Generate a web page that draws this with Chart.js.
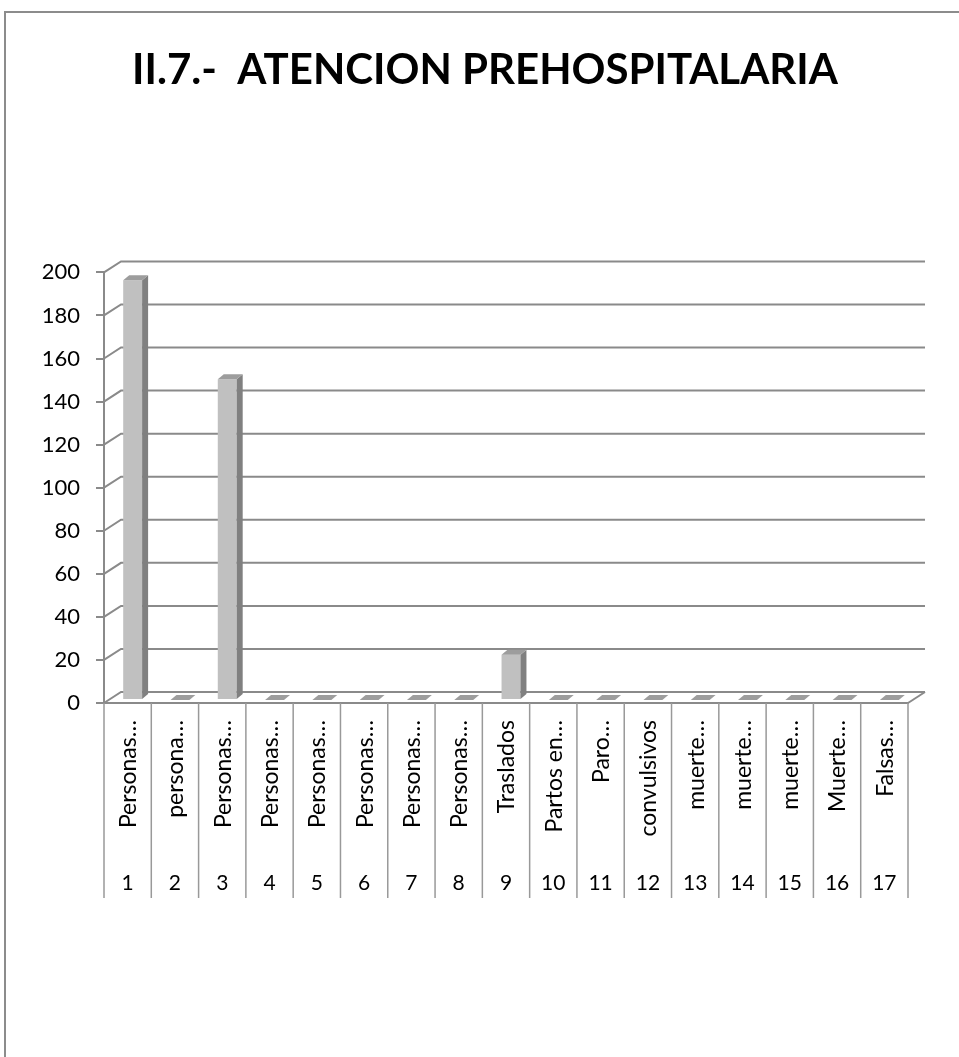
<!DOCTYPE html>
<html>
<head>
<meta charset="utf-8">
<title>II.7.- ATENCION PREHOSPITALARIA</title>
<script src="https://cdn.jsdelivr.net/npm/chart.js@4/dist/chart.umd.min.js"></script>
<style>
  html, body { margin: 0; padding: 0; background: #fff; }
  #frame {
    position: absolute; left: 4px; top: 11px; width: 970px; height: 1060px;
    border-left: 2px solid #8c8c8c; border-top: 2px solid #8c8c8c;
  }
  #wrap { position: absolute; left: 0; top: 0; width: 959px; height: 1057px; }
</style>
</head>
<body>
<div id="frame"></div>
<div id="wrap"><canvas id="chart"></canvas></div>
<script>
const categories = [
  'Personas…', 'persona…', 'Personas…', 'Personas…', 'Personas…', 'Personas…',
  'Personas…', 'Personas…', 'Traslados', 'Partos en…', 'Paro…', 'convulsivos',
  'muerte…', 'muerte…', 'muerte…', 'Muerte…', 'Falsas…'
];
const rowNumbers = ['1', '2', '3', '4', '5', '6', '7', '8', '9', '10', '11', '12', '13', '14', '15', '16', '17'];
const values = [195, 0, 149, 0, 0, 0, 0, 0, 21, 0, 0, 0, 0, 0, 0, 0, 0];
const yTicks = [0, 20, 40, 60, 80, 100, 120, 140, 160, 180, 200];

const FONT = 'Lato, "Open Sans", sans-serif';
const LINE = '#8a8a8a';
// pseudo 3d offsets
const wall = { x: 17, y: -11 };
const front = { x: 5, y: -3 };
const depth = { x: 6, y: -5 };

// back wall grid lines, drawn before the bars
const wallGrid = {
  id: 'wallGrid',
  beforeDatasetsDraw(chart) {
    const ctx = chart.ctx;
    const y = chart.scales.y;
    const area = chart.chartArea;
    ctx.save();
    ctx.strokeStyle = LINE;
    ctx.lineWidth = 2;
    yTicks.forEach(v => {
      const py = y.getPixelForValue(v);
      ctx.beginPath();
      ctx.moveTo(area.left, py);
      ctx.lineTo(area.left + wall.x, py + wall.y);
      ctx.lineTo(area.right + wall.x, py + wall.y);
      ctx.stroke();
    });
    // floor right side
    ctx.beginPath();
    ctx.moveTo(area.right, area.bottom);
    ctx.lineTo(area.right + wall.x, area.bottom + wall.y);
    ctx.stroke();
    ctx.restore();
  }
};

// shift the bars into the floor and add side + top faces
const bars3d = {
  id: 'bars3d',
  beforeDatasetDraw(chart) {
    chart.ctx.save();
    chart.ctx.translate(front.x, front.y);
  },
  afterDatasetDraw(chart, args) {
    const ctx = chart.ctx;
    args.meta.data.forEach(bar => {
      const p = bar.getProps(['x', 'y', 'base', 'width'], true);
      const x1 = p.x - p.width / 2;
      const x2 = p.x + p.width / 2;
      // side
      ctx.fillStyle = '#808080';
      ctx.beginPath();
      ctx.moveTo(x2, p.y);
      ctx.lineTo(x2 + depth.x, p.y + depth.y);
      ctx.lineTo(x2 + depth.x, p.base + depth.y);
      ctx.lineTo(x2, p.base);
      ctx.closePath();
      ctx.fill();
      // top
      ctx.fillStyle = '#9d9d9d';
      ctx.beginPath();
      ctx.moveTo(x1, p.y);
      ctx.lineTo(x1 + depth.x, p.y + depth.y);
      ctx.lineTo(x2 + depth.x, p.y + depth.y);
      ctx.lineTo(x2, p.y);
      ctx.closePath();
      ctx.fill();
    });
    ctx.restore();
  }
};

// category table under the floor: rotated names, row numbers, dividers
const categoryTable = {
  id: 'categoryTable',
  afterDraw(chart) {
    const ctx = chart.ctx;
    const x = chart.scales.x;
    const area = chart.chartArea;
    const step = x.width / categories.length;
    ctx.save();
    ctx.strokeStyle = '#999';
    ctx.lineWidth = 1.5;
    for (let i = 0; i <= categories.length; i++) {
      const px = x.left + i * step;
      ctx.beginPath();
      ctx.moveTo(px, area.bottom);
      ctx.lineTo(px, 898);
      ctx.stroke();
    }
    ctx.fillStyle = '#000';
    categories.forEach((name, i) => {
      const cx = x.getPixelForValue(i);
      ctx.save();
      ctx.font = '23px ' + FONT;
      ctx.translate(cx + 1, area.bottom + 17);
      ctx.rotate(-Math.PI / 2);
      ctx.textAlign = 'right';
      ctx.textBaseline = 'middle';
      ctx.fillText(name, 0, 0);
      ctx.restore();
      ctx.font = '21px ' + FONT;
      ctx.textAlign = 'center';
      ctx.textBaseline = 'middle';
      ctx.fillText(rowNumbers[i], cx, 883);
    });
    ctx.restore();
  }
};

new Chart(document.getElementById('chart'), {
  type: 'bar',
  data: {
    labels: categories,
    datasets: [{
      data: values,
      backgroundColor: '#c0c0c0',
      borderWidth: 0,
      barPercentage: 0.4,
      categoryPercentage: 1
    }]
  },
  options: {
    responsive: true,
    maintainAspectRatio: false,
    animation: false,
    layout: { padding: { left: 11, right: 0, top: 0, bottom: 0 } },
    plugins: {
      legend: { display: false },
      tooltip: { enabled: false },
      title: {
        display: true,
        text: 'II.7.-  ATENCION PREHOSPITALARIA',
        color: '#000',
        font: { family: FONT, size: 42, weight: 'bold' },
        padding: { top: 45, bottom: 177 }
      }
    },
    scales: {
      x: {
        grid: { display: false },
        border: { display: true, color: LINE, width: 2 },
        ticks: { display: false },
        afterFit(scale) { scale.height = 354; }
      },
      y: {
        min: 0,
        max: 200,
        ticks: {
          stepSize: 20,
          color: '#000',
          padding: 16,
          font: { family: FONT, size: 22 }
        },
        grid: { drawOnChartArea: false, tickLength: 8, color: LINE, lineWidth: 2 },
        border: { display: true, color: LINE, width: 2 },
        afterFit(scale) { scale.width = 93; }
      },
      // empty right-hand axis, only reserves the space right of the floor
      yRight: {
        position: 'right',
        grid: { display: false },
        border: { display: false },
        ticks: { display: false },
        afterFit(scale) { scale.width = 51; }
      }
    }
  },
  plugins: [wallGrid, bars3d, categoryTable]
});
</script>
</body>
</html>
